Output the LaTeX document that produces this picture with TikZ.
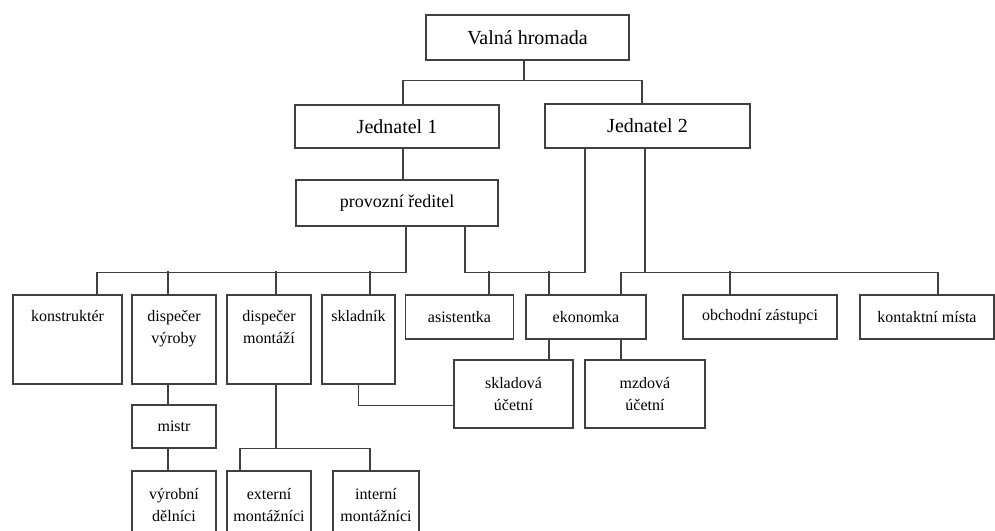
\documentclass[tikz,border=0pt]{standalone}
\usepackage{fontspec}
\setmainfont{Liberation Serif}
\usetikzlibrary{positioning}

\begin{document}
\begin{tikzpicture}
[-,x=1pt,y=-1pt,%
  wire/.style={draw=black!75,line width=1.4pt},%
  box/.style={shape=rectangle,draw=black!75,line width=1.4pt,inner sep=0pt,align=center,%
    font=\fontsize{16}{22}\selectfont},%
  head/.style={box,font=\fontsize{20}{24}\selectfont},%
  tall/.style={box,minimum height=89pt},%
  tx/.style={inner sep=0pt,align=center,font=\fontsize{16}{22}\selectfont}]
\useasboundingbox (0,0) rectangle (995,530);
\clip (0,0) rectangle (995,530);
\node[head,minimum width=203pt,minimum height=45pt] (valna) at (527.5,37.5) {Valná hromada};
\node[head,minimum width=204pt,minimum height=43pt] (jed1) at (397,126.5) {Jednatel 1};
\node[head,minimum width=205pt,minimum height=44pt] (jed2) at (647.5,126) {Jednatel 2};
\node[head,minimum width=202pt,minimum height=46pt,font=\fontsize{18}{22}\selectfont] (prov) at (397,203) {provozní ředitel};
\node[tall,minimum width=109pt] (konstr) at (67.5,339.5) {};
\node[tall,minimum width=84pt] (dvyr) at (174,339.5) {};
\node[tall,minimum width=84pt] (dmon) at (269,339.5) {};
\node[tall,minimum width=73pt] (sklad) at (358.5,339.5) {};
\node[tx,below=16pt of konstr.north] (konstrt) {konstruktér};
\node[tx,below=16pt of dvyr.north] (dvyrt) {dispečer\\výroby};
\node[tx,below=16pt of dmon.north] (dmont) {dispečer\\montáží};
\node[tx,below=16pt of sklad.north] (skladt) {skladník};
\node[box,minimum width=108pt,minimum height=44pt] (asist) at (459.5,317) {asistentka};
\node[box,minimum width=120pt,minimum height=44pt] (ekon) at (586,317) {ekonomka};
\node[box,minimum width=154pt,minimum height=44pt] (obch) at (760,317) {obchodní zástupci};
\node[box,minimum width=134pt,minimum height=44pt] (kont) at (927,317) {kontaktní místa};
\node[box,minimum width=119pt,minimum height=68pt] (skluc) at (513.5,394) {skladová\\účetní};
\node[box,minimum width=120pt,minimum height=68pt] (mzuc) at (645,394) {mzdová\\účetní};
\node[box,minimum width=84pt,minimum height=43pt] (mistr) at (174,426.5) {mistr};
\node[box,minimum width=84pt,minimum height=69pt] (vyrd) at (174,505.5) {výrobní\\dělníci};
\node[box,minimum width=84pt,minimum height=69pt] (extm) at (269,505.5) {externí\\montážníci};
\node[box,minimum width=86pt,minimum height=69pt] (intm) at (376,505.5) {interní\\montážníci};
\draw[wire] ([xshift=-3.5pt]valna.south) -- ++(0,20) coordinate (b0);
\draw[wire] ([xshift=6pt]jed1.north) |- (b0);
\draw[wire] ([xshift=-5.5pt]jed2.north) |- (b0);
\draw[wire] ([xshift=6pt]jed1.south) -- ([xshift=6pt]prov.north);
\draw[wire] ([xshift=9pt]prov.south) -- ++(0,46) coordinate (b1);
\draw[wire] ([xshift=29.5pt]konstr.north) |- (b1);
\foreach \n/\s in {dvyr/-6,dmon/7,sklad/11.5}
  \draw[wire] ([xshift=\s pt]\n.north) -- ++(0,-23);
\draw[wire] ([xshift=68pt]prov.south) -- ++(0,46) coordinate (b2);
\draw[wire] ([xshift=-62.5pt]jed2.south) |- (b2);
\foreach \n/\s in {asist/29.5,ekon/-37}
  \draw[wire] ([xshift=\s pt]\n.north) -- ++(0,-23);
\draw[wire] ([xshift=-2.5pt]jed2.south) -- ++(0,124) coordinate (b3);
\draw[wire] ([xshift=35pt]ekon.north) |- (b3);
\draw[wire] ([xshift=11pt]kont.north) |- (b3);
\draw[wire] ([xshift=-30pt]obch.north) -- ++(0,-23);
\draw[wire] ([xshift=-37pt]ekon.south) -- ++(0,21);
\draw[wire] ([xshift=35pt]ekon.south) -- ++(0,21);
\draw[wire] (sklad.south) |- ([yshift=-11.7pt]skluc.west);
\draw[wire] ([xshift=-6pt]dvyr.south) -- ([xshift=-6pt]mistr.north);
\draw[wire] ([xshift=-6pt]mistr.south) -- ([xshift=-6pt]vyrd.north);
\draw[wire] ([xshift=7pt]dmon.south) -- ++(0,64) coordinate (b4);
\draw[wire] ([xshift=-29pt]extm.north) |- (b4);
\draw[wire] ([xshift=-6pt]intm.north) |- (b4);
\end{tikzpicture}
\end{document}
